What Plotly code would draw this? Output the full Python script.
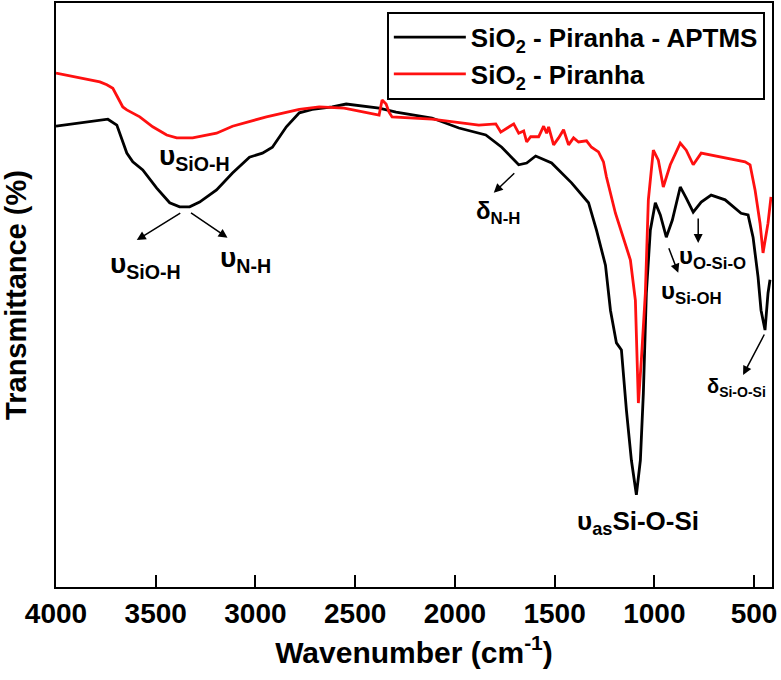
import plotly.graph_objects as go

# Wavenumber (cm-1) and transmittance (arbitrary %)
aptms_wn = [4000, 3880, 3740, 3695, 3645, 3615, 3565, 3495, 3430, 3380, 3330, 3280,
            3195, 3115, 3030, 2965, 2915, 2845, 2780, 2715, 2615, 2545, 2380, 2295,
            2115, 1980, 1845, 1765, 1680, 1640, 1595, 1515, 1480, 1415, 1330, 1290,
            1245, 1220, 1190, 1165, 1140, 1115, 1090, 1070, 1055, 1040, 1020, 995,
            970, 940, 910, 870, 840, 805, 765, 715, 645, 615, 565, 530, 505, 480,
            465, 445, 430, 420]
aptms_t = [78.9, 79.5, 80.1, 79.1, 74.3, 72.8, 71.4, 68.3, 65.8, 65.1, 65.1, 65.9,
           68.0, 70.9, 73.6, 74.3, 75.3, 78.8, 81.2, 81.8, 82.2, 82.7, 82.0, 81.3,
           80.3, 78.6, 77.4, 75.3, 72.3, 72.6, 73.8, 72.6, 71.4, 69.2, 65.8, 61.1,
           55.1, 47.4, 41.8, 40.6, 30.3, 21.7, 15.8, 21.7, 33.2, 50.3, 61.1, 65.8,
           63.7, 59.9, 62.8, 68.5, 66.6, 64.2, 65.9, 67.1, 66.3, 65.4, 64.0, 63.7,
           59.9, 53.1, 47.4, 44.0, 50.3, 52.6]

piranha_wn = [4000, 3880, 3780, 3745, 3715, 3665, 3645, 3580, 3515, 3445, 3395, 3315,
              3195, 3115, 2945, 2780, 2680, 2555, 2445, 2380, 2365, 2345, 2330, 2315,
              2115, 1980, 1880, 1795, 1770, 1705, 1680, 1655, 1640, 1620, 1580, 1555,
              1540, 1530, 1505, 1480, 1455, 1430, 1405, 1380, 1340, 1315, 1280, 1255,
              1240, 1195, 1145, 1120, 1095, 1080, 1065, 1045, 1030, 1005, 980, 955,
              920, 870, 840, 805, 765, 665, 545, 520, 495, 470, 455, 430, 415]
piranha_t = [88.0, 87.2, 86.5, 86.0, 85.4, 82.2, 81.7, 80.5, 78.8, 77.4, 76.9, 76.9,
             77.7, 78.9, 80.5, 81.8, 82.2, 82.0, 81.3, 80.8, 83.4, 82.7, 81.3, 80.5,
             80.1, 79.5, 79.1, 79.3, 77.9, 79.3, 77.7, 78.1, 76.2, 77.1, 77.1, 78.9,
             77.7, 78.8, 75.7, 76.9, 78.3, 75.7, 76.9, 76.2, 76.4, 75.3, 74.5, 72.8,
             70.2, 64.0, 58.9, 56.0, 49.1, 31.5, 38.9, 50.3, 66.3, 74.8, 73.1, 68.5,
             72.3, 76.0, 74.8, 72.3, 74.3, 73.6, 72.8, 72.3, 68.0, 62.3, 57.2, 62.3, 66.8]

series_names = ["SiO<sub>2</sub> - Piranha - APTMS", "SiO<sub>2</sub> - Piranha"]
x_ticks = [4000, 3500, 3000, 2500, 2000, 1500, 1000, 500]

FONT = "Liberation Sans, Arial, sans-serif"

fig = go.Figure()
fig.add_trace(go.Scatter(x=aptms_wn, y=aptms_t, mode="lines", name=series_names[0],
                         line=dict(color="black", width=2.8)))
fig.add_trace(go.Scatter(x=piranha_wn, y=piranha_t, mode="lines", name=series_names[1],
                         line=dict(color="#ff1010", width=2.8)))

# annotations: (text, x, y, size)
labels = [
    ("υ<sub>SiO-H</sub>", 3305, 73.5, 28),
    ("υ<sub>SiO-H</sub>", 3550, 55.1, 28),
    ("υ<sub>N-H</sub>", 3050, 56.0, 28),
    ("δ<sub>N-H</sub>", 1785, 64.2, 24),
    ("υ<sub>O-Si-O</sub>", 710, 56.5, 24),
    ("υ<sub>Si-OH</sub>", 815, 50.5, 24),
    ("δ<sub>Si-O-Si</sub>", 590, 34.1, 20),
    ("υ<sub>as</sub>Si-O-Si", 1080, 11.1, 26),
]
for t, x, y, s in labels:
    fig.add_annotation(x=x, y=y, text=t, showarrow=False,
                       font=dict(family=FONT, size=s, color="black", weight="bold"))

# arrows: head (x, y), tail offset (ax, ay) in pixels
arrows = [
    (3595, 59.4, 45, -28),
    (3140, 59.8, -38, -26),
    (1805, 67.5, 22, -21),
    (780, 58.9, 0, -26),
    (880, 53.8, -10, -26),
    (555, 36.3, 22, -42),
]
for x, y, ax, ay in arrows:
    fig.add_annotation(x=x, y=y, ax=ax, ay=ay, text="", showarrow=True,
                       arrowhead=2, arrowsize=1.2, arrowwidth=1.5, arrowcolor="black")

fig.update_layout(
    width=781, height=680,
    margin=dict(l=56, r=9, t=3, b=93),
    paper_bgcolor="white", plot_bgcolor="white",
    font=dict(family=FONT, color="black"),
    showlegend=True,
    legend=dict(x=0.99, y=0.985, xanchor="right", yanchor="top",
                bordercolor="black", borderwidth=2, bgcolor="white",
                font=dict(family=FONT, size=26, color="black", weight="bold"),
                tracegroupgap=0, itemwidth=72),
)
fig.update_xaxes(
    range=[4000, 410], tickvals=x_ticks, ticks="inside", ticklen=12, tickwidth=2,
    tickcolor="black", showline=True, linecolor="black", linewidth=2, mirror=True,
    showgrid=False, zeroline=False, automargin=False,
    tickfont=dict(family=FONT, size=28, color="black", weight="bold"),
    title=dict(text="Wavenumber (cm<sup>-1</sup>)", standoff=14,
               font=dict(family=FONT, size=30, color="black", weight="bold")),
)
fig.update_yaxes(
    range=[0, 100], showticklabels=False, ticks="", showline=True, linecolor="black",
    linewidth=2, mirror=True, showgrid=False, zeroline=False, automargin=False,
    title=dict(text="Transmittance (%)", standoff=22,
               font=dict(family=FONT, size=29, color="black", weight="bold")),
)

fig.write_html("out.html", config={"displayModeBar": False},
               post_script="document.body.style.margin='0';document.body.style.padding='0';")
